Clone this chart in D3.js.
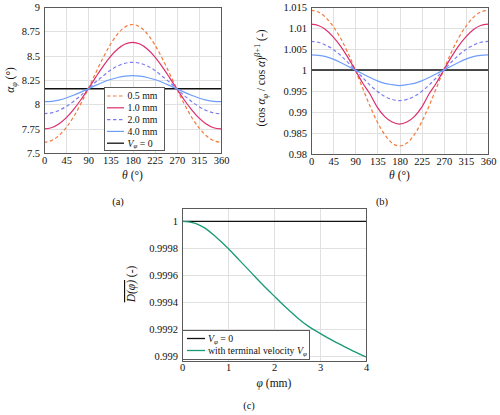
<!DOCTYPE html>
<html><head><meta charset="utf-8">
<script src="https://cdn.jsdelivr.net/npm/d3@7"></script>
<style>
body{margin:0;background:#fff;}
svg text{font-family:"Liberation Serif","DejaVu Serif",serif !important;fill:#111;}
</style></head>
<body><svg id="c" width="500" height="415"></svg>
<script>
// ---------- data ----------
const theta = [0,15,30,45,60,75,90,105,120,135,150,165,180,195,210,225,240,255,270,285,300,315,330,345,360];
const thetaTicks = [0,45,90,135,180,225,270,315,360];
const alphaTicks = [7.5,7.75,8,8.25,8.5,8.75,9];
const ratioTicks = [0.98,0.985,0.99,0.995,1,1.005,1.01,1.015];
const seriesNames = ["0.5 mm","1.0 mm","2.0 mm","4.0 mm"];
const alpha05 = [7.61,7.627,7.677,7.76,7.87,8.007,8.16,8.321,8.477,8.615,8.725,8.795,8.82,8.795,8.725,8.615,8.477,8.321,8.16,8.007,7.87,7.76,7.677,7.627,7.61];
const alpha10 = [7.747,7.76,7.799,7.861,7.946,8.047,8.16,8.277,8.39,8.491,8.569,8.62,8.637,8.62,8.569,8.491,8.39,8.277,8.16,8.047,7.946,7.861,7.799,7.76,7.747];
const alpha20 = [7.904,7.912,7.937,7.977,8.03,8.092,8.16,8.229,8.29,8.351,8.394,8.422,8.432,8.422,8.394,8.351,8.29,8.229,8.16,8.092,8.03,7.977,7.937,7.912,7.904];
const alpha40 = [8.027,8.031,8.044,8.065,8.093,8.125,8.16,8.195,8.227,8.255,8.276,8.289,8.294,8.289,8.276,8.255,8.227,8.195,8.16,8.125,8.093,8.065,8.044,8.031,8.027];
const alphaV0 = 8.16;
const ratio05 = [1.0142,1.0138,1.0125,1.0104,1.0076,1.0041,1,0.9957,0.9914,0.9876,0.9846,0.9826,0.9819,0.9826,0.9846,0.9876,0.9914,0.9957,1,1.0041,1.0076,1.0104,1.0125,1.0138,1.0142];
const ratio10 = [1.0109,1.0106,1.0096,1.0079,1.0057,1.0030,1,0.9969,0.9943,0.9911,0.9889,0.9876,0.9871,0.9876,0.9889,0.9911,0.9943,0.9969,1,1.0030,1.0057,1.0079,1.0096,1.0106,1.0109];
const ratio20 = [1.0068,1.0066,1.0059,1.0049,1.0035,1.0018,1,0.9982,0.9964,0.9949,0.9937,0.9930,0.9927,0.9930,0.9937,0.9949,0.9964,0.9982,1,1.0018,1.0035,1.0049,1.0059,1.0066,1.0068];
const ratio40 = [1.0036,1.0035,1.0032,1.0026,1.0018,1.0009,1,0.9991,0.9982,0.9974,0.9968,0.9965,0.9963,0.9965,0.9968,0.9974,0.9982,0.9991,1,1.0009,1.0018,1.0026,1.0032,1.0035,1.0036];
const ratioV0 = 1;
const phi = [0,0.25,0.5,0.75,1,1.25,1.5,1.75,2,2.25,2.5,2.75,3,3.25,3.5,3.75,4];
const Dterm = [1,0.99999,0.99995,0.99988,0.99980,0.99971,0.99962,0.99953,0.999445,0.999362,0.999285,0.999218,0.999166,0.999117,0.999073,0.99903,0.99899];
const DV0 = 1;
const phiTicks = [0,1,2,3,4];
const DTicks = [0.999,0.9992,0.9994,0.9996,0.9998,1];

// ---------- styles ----------
const colors = ["#f47a3a","#dd2d6e","#7c7cf2","#6e9ff8"];
const dashes = ["3.5,2.5",null,"3.5,2.5",null];
const FONT = "'Liberation Serif','DejaVu Serif',serif";
const TICK = "10.5px", LEG = 9.8, LAB = 11.5;
const svg = d3.select("#c");

function panel(o){
  const g = svg.append("g");
  const x = d3.scaleLinear().domain(o.xd).range(o.xr);
  const y = d3.scaleLinear().domain(o.yd).range(o.yr);
  g.append("g").selectAll("line").data(o.xt).join("line")
    .attr("x1",d=>Math.round(x(d))+0.5).attr("x2",d=>Math.round(x(d))+0.5)
    .attr("y1",o.yr[1]).attr("y2",o.yr[0]).attr("stroke","#e0e0e0");
  g.append("g").selectAll("line").data(o.yt).join("line")
    .attr("y1",d=>Math.round(y(d))+0.5).attr("y2",d=>Math.round(y(d))+0.5)
    .attr("x1",o.xr[0]).attr("x2",o.xr[1]).attr("stroke","#e0e0e0");
  const ax = g.append("g").attr("transform",`translate(0,${o.yr[0]})`)
    .call(d3.axisBottom(x).tickValues(o.xt).tickSize(0).tickPadding(o.xp).tickFormat(o.xf||(d=>d)));
  const ay = g.append("g").attr("transform",`translate(${o.xr[0]},0)`)
    .call(d3.axisLeft(y).tickValues(o.yt).tickSize(0).tickPadding(4).tickFormat(o.yf||(d=>d)));
  [ax,ay].forEach(a=>{a.attr("font-family",null).attr("font-size",null);
    a.select(".domain").remove();
    a.selectAll("text").style("font-family",FONT).style("font-size",TICK).attr("fill","#111");});
  return {g,x,y};
}
function frame(p,o){
  p.g.append("rect").attr("x",o.xr[0]+0.5).attr("y",o.yr[1]+0.5)
    .attr("width",o.xr[1]-o.xr[0]).attr("height",o.yr[0]-o.yr[1])
    .attr("fill","none").attr("stroke","#5a5a5a").attr("stroke-width",1);
}
const curve = d3.curveMonotoneX;

// ---------- panel (a) ----------
const oa = {xd:[0,360],xr:[44,221],yd:[7.5,9],yr:[153,7],xt:thetaTicks,yt:alphaTicks,xp:4};
const pa = panel(oa);
const aSeries=[alpha05,alpha10,alpha20,alpha40];
pa.g.append("line").attr("x1",pa.x(0)).attr("x2",pa.x(360)).attr("y1",pa.y(alphaV0)).attr("y2",pa.y(alphaV0))
  .attr("stroke","#111").attr("stroke-width",1.3);
aSeries.forEach((s,i)=>{
  pa.g.append("path").datum(s).attr("fill","none").attr("stroke",colors[i]).attr("stroke-width",1.2)
   .attr("stroke-dasharray",dashes[i])
   .attr("d",d3.line().x((d,j)=>pa.x(theta[j])).y(d=>pa.y(d)).curve(curve));
});
frame(pa,oa);
const lg = svg.append("g");
lg.append("rect").attr("x",104.5).attr("y",87.5).attr("width",60).attr("height",63).attr("fill","#fff").attr("stroke","#5a5a5a");
seriesNames.concat(["V0"]).forEach((n,i)=>{
  const yy = 96 + i*11.8;
  lg.append("line").attr("x1",107).attr("x2",124).attr("y1",yy).attr("y2",yy)
    .attr("stroke",i<4?colors[i]:"#111").attr("stroke-width",i<4?1.2:1.3).attr("stroke-dasharray",i<4?dashes[i]:null);
  const t = lg.append("text").attr("x",127.5).attr("y",yy+3.3).attr("font-size",LEG);
  if(i<4) t.text(n);
  else { t.append("tspan").attr("font-style","italic").text("V");
         t.append("tspan").attr("font-size",7).attr("font-style","italic").attr("dy",1.8).text("φ");
         t.append("tspan").attr("dy",-1.8).text(" = 0"); }
});
function thetaLabel(xc,yc){
  const t = svg.append("text").attr("x",xc).attr("y",yc).attr("text-anchor","middle").attr("font-size",LAB);
  t.append("tspan").attr("font-style","italic").text("θ");
  t.append("tspan").text(" (°)");
}
thetaLabel(132.5,179);
const ya = svg.append("text").attr("transform","translate(14,80) rotate(-90)").attr("text-anchor","middle").attr("font-size",LAB);
ya.append("tspan").attr("font-style","italic").text("α");
ya.append("tspan").attr("font-style","italic").attr("font-size",8).attr("dy",2.5).text("φ");
ya.append("tspan").attr("dy",-2.5).text(" (°)");
svg.append("text").attr("x",118).attr("y",205).attr("text-anchor","middle").attr("font-size",10.5).text("(a)");

// ---------- panel (b) ----------
const ob = {xd:[0,360],xr:[311,488],yd:[0.98,1.015],yr:[154,7],xt:thetaTicks,yt:ratioTicks,yf:d3.format("~g"),xp:4};
const pb = panel(ob);
const bSeries=[ratio05,ratio10,ratio20,ratio40];
pb.g.append("line").attr("x1",pb.x(0)).attr("x2",pb.x(360)).attr("y1",pb.y(ratioV0)).attr("y2",pb.y(ratioV0))
  .attr("stroke","#111").attr("stroke-width",1.3);
bSeries.forEach((s,i)=>{
  pb.g.append("path").datum(s).attr("fill","none").attr("stroke",colors[i]).attr("stroke-width",1.2)
   .attr("stroke-dasharray",dashes[i])
   .attr("d",d3.line().x((d,j)=>pb.x(theta[j])).y(d=>pb.y(d)).curve(curve));
});
frame(pb,ob);
thetaLabel(399.5,179);
const yb = svg.append("text").attr("transform","translate(265,78) rotate(-90)").attr("text-anchor","middle").attr("font-size",LAB);
yb.append("tspan").text("(cos ");
yb.append("tspan").attr("font-style","italic").text("α");
yb.append("tspan").attr("font-style","italic").attr("font-size",8).attr("dy",2.5).text("φ");
yb.append("tspan").attr("dy",-2.5).text(" / cos ");
yb.append("tspan").attr("font-style","italic").text("α");
yb.append("tspan").text(")");
yb.append("tspan").attr("font-style","italic").attr("font-size",8.5).attr("dy",-5).text("β");
yb.append("tspan").attr("font-size",8.5).text("+1");
yb.append("tspan").attr("dy",5).text(" (-)");
svg.append("text").attr("x",382).attr("y",205).attr("text-anchor","middle").attr("font-size",10.5).text("(b)");

// ---------- panel (c) ----------
const oc = {xd:[0,4],xr:[182,366],yd:[0.99896,1.0001],yr:[361,208],xt:phiTicks,yt:DTicks,yf:d3.format("~g"),xp:3};
const pc = panel(oc);
pc.g.append("line").attr("x1",pc.x(0)).attr("x2",pc.x(4)).attr("y1",pc.y(DV0)).attr("y2",pc.y(DV0))
  .attr("stroke","#111").attr("stroke-width",1.3);
pc.g.append("path").datum(Dterm).attr("fill","none").attr("stroke","#1a9a78").attr("stroke-width",1.3)
  .attr("d",d3.line().x((d,j)=>pc.x(phi[j])).y(d=>pc.y(d)).curve(curve));
frame(pc,oc);
const lc = svg.append("g");
lc.append("rect").attr("x",182.5).attr("y",330.5).attr("width",127).attr("height",29).attr("fill","#fff").attr("stroke","#5a5a5a");
[["#111",0],["#1a9a78",1]].forEach(([col,i])=>{
  const yy = 338.5 + i*12;
  lc.append("line").attr("x1",187).attr("x2",205).attr("y1",yy).attr("y2",yy).attr("stroke",col).attr("stroke-width",1.3);
  const t = lc.append("text").attr("x",208).attr("y",yy+3.3).attr("font-size",LEG);
  if(i==1) t.append("tspan").text("with terminal velocity ");
  t.append("tspan").attr("font-style","italic").text("V");
  t.append("tspan").attr("font-size",7).attr("font-style","italic").attr("dy",1.8).text("φ");
  if(i==0) t.append("tspan").attr("dy",-1.8).text(" = 0");
});
const xc = svg.append("text").attr("x",274).attr("y",387).attr("text-anchor","middle").attr("font-size",LAB);
xc.append("tspan").attr("font-style","italic").text("φ");
xc.append("tspan").text(" (mm)");
const ycl = svg.append("text").attr("transform","translate(135,284) rotate(-90)").attr("text-anchor","middle").attr("font-size",LAB);
ycl.append("tspan").attr("font-style","italic").attr("text-decoration","overline").text("D(φ)");
ycl.append("tspan").text(" (-)");
svg.append("text").attr("x",249).attr("y",409).attr("text-anchor","middle").attr("font-size",10.5).text("(c)");
</script></body></html>
